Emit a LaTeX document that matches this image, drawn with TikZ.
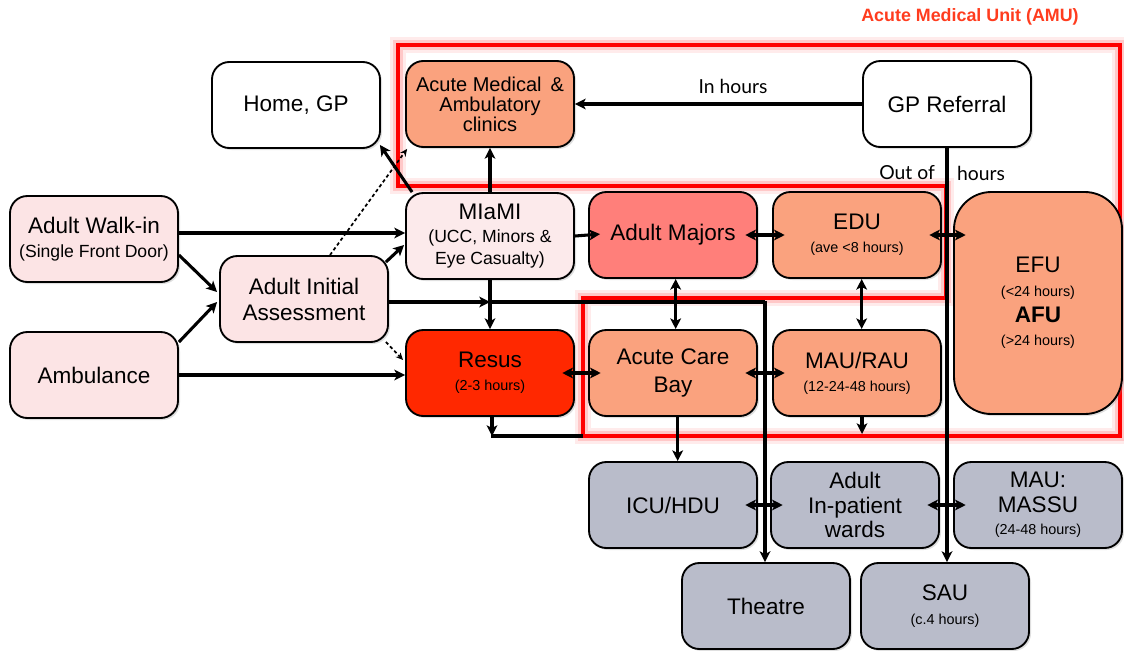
\documentclass[tikz,border=0pt]{standalone}
\usepackage{fontspec}
\setmainfont{Liberation Sans}
\newfontfamily\gillfont{Lato}
\usetikzlibrary{arrows.meta,shadows,calc}

\definecolor{pinkbox}{RGB}{252,228,229}
\definecolor{miamibox}{RGB}{252,234,235}
\definecolor{salmon}{RGB}{250,162,126}
\definecolor{majorsc}{RGB}{255,127,122}
\definecolor{resusc}{RGB}{255,40,0}
\definecolor{greybox}{RGB}{185,188,202}
\definecolor{amured}{RGB}{255,0,0}
\definecolor{titlered}{RGB}{255,60,30}

\newcommand\subtxt[1]{{\fontsize{10.8}{13}\selectfont #1}}
\newcommand\midtxt[1]{{\fontsize{13.2}{16}\selectfont #1}}

\begin{document}
\begin{tikzpicture}[x=0.75pt,y=-0.75pt,
  box/.style={draw=black, line width=1.4pt, rounded corners=13pt,
    minimum width=126pt, minimum height=64.5pt, align=center, inner sep=2pt,
    font=\fontsize{16.9}{19.5}\selectfont,
    drop shadow={opacity=0.25, shadow xshift=1.5pt, shadow yshift=-1.5pt}},
  conn/.style={line width=2.3pt, -{Stealth[length=8pt,width=8pt,inset=2pt]}},
  plain/.style={line width=2.3pt},
  dbl/.style={line width=2.3pt, {Stealth[length=8pt,width=8pt,inset=2pt]}-{Stealth[length=8pt,width=8pt,inset=2pt]}},
  dblx/.style={dbl, shorten <=-9.5pt, shorten >=-9.5pt},
  dotconn/.style={line width=1.3pt, dash pattern=on 2.5pt off 2pt, -{Stealth[length=5.5pt,width=5pt]}},
  lbl/.style={font=\gillfont\fontsize{14.5}{16}\selectfont, inner sep=1pt},
  amuframe/.style={amured, line join=miter}
]
\useasboundingbox (0,0) rectangle (1124,650);

% AMU frame (glow + line)
\coordinate (f1) at (398,45);
\coordinate (f2) at (1120,45);
\coordinate (f3) at (1120,436);
\coordinate (f4) at (583,436);
\coordinate (f5) at (583,298);
\coordinate (f6) at (946,298);
\coordinate (f7) at (946,186);
\coordinate (f8) at (398,186);
\draw[amuframe, line width=12pt, opacity=0.08] (f1) -- (f2) -- (f3) -- (f4) -- (f5) -- (f6) -- (f7) -- (f8) -- cycle;
\draw[amuframe, line width=8pt, opacity=0.15] (f1) -- (f2) -- (f3) -- (f4) -- (f5) -- (f6) -- (f7) -- (f8) -- cycle;
\draw[amuframe, line width=3.5pt] (f1) -- (f2) -- (f3) -- (f4) -- (f5) -- (f6) -- (f7) -- (f8) -- cycle;

\node[font=\bfseries\fontsize{13.4}{15}\selectfont, text=titlered] (title) at (970,17) {Acute Medical Unit (AMU)};

% Nodes
\node[box, fill=white] (home) at (296,105) {Home, GP};
\node[box, fill=salmon, font=\fontsize{15}{15}\selectfont] (clin) at (490,104) {Acute Medical \,\&\\Ambulatory\\clinics};
\node[box, fill=white] (gp) at (947,104) {GP Referral};
\node[box, fill=pinkbox] (walk) at (94,239) {Adult Walk-in\\[-1pt]\midtxt{(Single Front Door)}};
\node[box, fill=pinkbox] (aia) at (304,299) {Adult Initial\\Assessment};
\node[box, fill=pinkbox] (amb) at (94,375) {Ambulance};
\node[box, fill=miamibox] (miami) at (490,236) {MIaMI\\[-2pt]\midtxt{(UCC, Minors \&}\\[-3pt]\midtxt{Eye Casualty)}};
\node[box, fill=majorsc] (maj) at (673,235) {\raisebox{-2pt}{Adult Majors}};
\node[box, fill=salmon] (edu) at (857,235) {EDU\\[-2pt]\subtxt{(ave <8 hours)}};
\node[box, fill=salmon, minimum height=166.5pt, rounded corners=28pt] (efu) at (1038,303) {EFU\\[-2pt]\subtxt{(<24 hours)}\\[0pt]\textbf{AFU}\\[-2pt]\subtxt{(>24 hours)}};
\node[box, fill=resusc] (resus) at (490,373) {Resus\\[-2pt]\subtxt{(2-3 hours)}};
\node[box, fill=salmon] (acb) at (673,373) {Acute Care\\[1pt]Bay};
\node[box, fill=salmon] (maurau) at (857,373) {MAU/RAU\\[-2pt]\subtxt{(12-24-48 hours)}};
\node[box, fill=greybox] (icu) at (673,505) {ICU/HDU};
\node[box, fill=greybox, font=\fontsize{16.9}{18.5}\selectfont] (wards) at (855,505) {Adult\\In-patient\\wards};
\node[box, fill=greybox, font=\fontsize{16.9}{18.5}\selectfont] (massu) at (1038,505) {MAU:\\MASSU\\[-2pt]\subtxt{(24-48 hours)}};
\node[box, fill=greybox] (theatre) at (766,606) {Theatre};
\node[box, fill=greybox] (sau) at (945,606) {SAU\\[-2pt]\subtxt{(c.4 hours)}};

% Connector labels
\node[lbl] (inh) at (733,86) {In hours};
\node[lbl] (outof) at (907,173) {Out of};
\node[lbl] (ohrs) at (981,173) {hours};

% Connectors
\draw[conn] (gp.west) -- (clin.east);
\draw[conn] (gp.south) -- (gp.south |- sau.north);

\draw[conn] ([yshift=4.5pt]walk.east) -- ([yshift=4.5pt]walk.east -| miami.west);
\draw[conn] (amb.east) -- (amb.east -| resus.west);
\draw[conn] ($(walk.east)+(0,16)$) -- ($(aia.west)+(-2,-7)$);
\draw[conn] ($(amb.east)+(0,-33)$) -- ($(aia.west)+(-2,3)$);
\draw[conn] ($(aia.east)+(-3,-37)$) -- ($(miami.west)+(-1,9)$);
\draw[dotconn] ($(aia.north)+(26,0)$) -- ($(clin.south west)+(2,1)$);
\draw[dotconn] ($(aia.east)+(-3,43)$) -- ($(resus.west)+(-2,-13)$);
\draw[conn] ($(miami.north west)+(7,0)$) -- ($(home.south east)+(-1,-4)$);

\draw[conn] (miami.north) -- (clin.south);
\draw[conn] (miami.south) -- (resus.north);
\draw[conn, shorten >=-9pt] (miami.east) -- (maj.west);
\draw[dblx] (maj.east) -- (edu.east -| edu.west);
\draw[dblx] (edu.east) -- (edu.east -| efu.west);
\draw[dbl] ([xshift=2pt]maj.south) -- ([xshift=2pt]acb.north);
\draw[dbl] ([xshift=3.5pt]edu.south) -- ([xshift=3.5pt]maurau.north);
\draw[dblx] (resus.east) -- (acb.west);
\draw[dblx] (acb.east) -- (maurau.west);
\draw[dblx] (icu.east) -- (wards.west);
\draw[dblx] (wards.east) -- (wards.east -| massu.west);

% AIA line to theatre
\coordinate (j1) at (490,302);
\coordinate (j2) at (765,302);
\draw[conn] (aia.east |- j1) -- (j1);
\draw[plain] (j1) -- (j2);
\draw[conn] ([yshift=0.9pt]j2) -- (j2 |- theatre.north);

% bottom lines
\coordinate (rb) at (492,436);
\coordinate (rb2) at (583,436);
\draw[conn] (resus.south -| rb) -- (rb);
\draw[plain] ([xshift=-0.9pt]rb) -- (rb2);
\draw[conn] ([xshift=3.5pt]acb.south) -- ([xshift=3.5pt]acb.south |- icu.north);
\coordinate (mr) at (862,434);
\draw[conn] (maurau.south -| mr) -- (mr);
\end{tikzpicture}
\end{document}
